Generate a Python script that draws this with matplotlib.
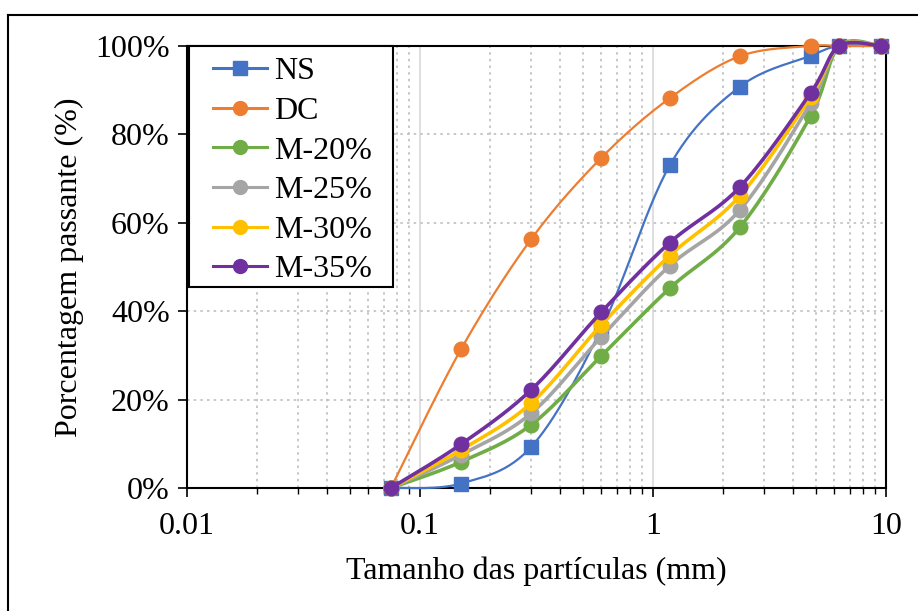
import numpy as np
import matplotlib
matplotlib.use('Agg')
from matplotlib import pyplot as plt
from matplotlib.ticker import LogLocator, FixedLocator, FuncFormatter, NullFormatter

plt.rcParams['font.family'] = ['Liberation Serif', 'DejaVu Serif']

# sieve openings (mm)
sizes = [0.075, 0.15, 0.3, 0.6, 1.18, 2.36, 4.75, 6.3, 9.5]

# percentage passing
ns = [0, 1.0, 9.3, 36, 73, 90.8, 97.8, 100, 100]
dc = [0, 31.4, 56.3, 74.7, 88.2, 97.7, 100, 100, 100]
m20 = [0, 5.9, 14.3, 29.9, 45.2, 59.0, 84.2, 100, 100]
m25 = [0, 7.5, 16.9, 34.2, 50.3, 62.9, 87.1, 100, 100]
m30 = [0, 8.6, 19.2, 36.9, 52.6, 66.1, 88.5, 100, 100]
m35 = [0, 9.9, 22.2, 39.8, 55.5, 68.1, 89.4, 100, 100]

labels = ['NS', 'DC', 'M-20%', 'M-25%', 'M-30%', 'M-35%']
colors = ['#4472C4', '#ED7D31', '#70AD47', '#A5A5A5', '#FFC000', '#7030A0']


def smooth(xs, ys, n=30):
    # Excel-like smoothed line: cubic Bezier with Catmull-Rom control points in (log x, y)
    px = np.log10(xs) * 233.0
    py = np.asarray(ys, float) * 4.42
    P = np.column_stack([px, py])
    out = [P[0]]
    for i in range(len(P) - 1):
        p0 = P[i - 1] if i > 0 else P[i]
        p1, p2 = P[i], P[i + 1]
        p3 = P[i + 2] if i + 2 < len(P) else P[i + 1]
        c1 = p1 + (p2 - p0) / 6.0
        c2 = p2 - (p3 - p1) / 6.0
        t = np.linspace(0, 1, n)[1:, None]
        seg = ((1 - t) ** 3) * p1 + 3 * ((1 - t) ** 2) * t * c1 + 3 * (1 - t) * t ** 2 * c2 + t ** 3 * p2
        out.extend(seg)
    out = np.array(out)
    return 10 ** (out[:, 0] / 233.0), out[:, 1] / 4.42


W, H = 918, 611
fig = plt.figure(figsize=(W / 100, H / 100), dpi=100)
ax = fig.add_axes([187 / W, 1 - 488 / H, (886 - 187) / W, (488 - 46) / H])

series = [ns, dc, m20, m25, m30, m35]
for i, (vals, lab, col) in enumerate(zip(series, labels, colors)):
    lw = 1.6 if i < 2 else 2.6
    mk = 's' if i == 0 else 'o'
    sx, sy = smooth(sizes, vals)
    ax.plot(sx, sy, color=col, lw=lw, zorder=3 + i, clip_on=False)
    ax.plot(sizes, vals, linestyle='none', marker=mk, ms=10.5, color=col, zorder=3 + i, clip_on=False)
    ax.plot([], [], color=col, lw=2.2, marker=mk, ms=10, label=lab)

ax.set_xscale('log')
ax.set_xlim(0.01, 10)
ax.set_ylim(0, 100)

ax.xaxis.set_major_locator(FixedLocator([0.01, 0.1, 1, 10]))
ax.xaxis.set_major_formatter(FuncFormatter(lambda v, p: f'{v:g}'))
ax.xaxis.set_minor_locator(LogLocator(base=10, subs=np.arange(2, 10)))
ax.xaxis.set_minor_formatter(NullFormatter())
ax.set_yticks([0, 20, 40, 60, 80, 100])
ax.yaxis.set_major_formatter(FuncFormatter(lambda v, p: f'{v:.0f}%'))

ax.grid(which='major', axis='x', color='#D9D9D9', lw=1.2, ls='-')
ax.grid(which='minor', axis='x', color='#BFBFBF', lw=1.2, ls=(0, (1.5, 2.5)))
ax.grid(which='major', axis='y', color='#BFBFBF', lw=1.2, ls=(0, (1.5, 2.5)))
ax.set_axisbelow(True)

for s in ax.spines.values():
    s.set_color('black')
    s.set_linewidth(1.5)

ax.tick_params(axis='both', which='major', labelsize=23, direction='out', length=6.5, width=1.2, colors='black')
ax.tick_params(axis='x', which='minor', direction='out', length=4.5, width=1.0)
ax.tick_params(axis='y', which='major', pad=6)
ax.tick_params(axis='x', which='major', pad=11)

ax.set_xlabel('Tamanho das partículas (mm)', fontsize=23, labelpad=11)
ax.set_ylabel('Porcentagem passante (%)', fontsize=23, labelpad=8)

# legend entries without frame; frame drawn as a separate box
leg = ax.legend(loc='upper left', bbox_to_anchor=(213 / W, 1 - 57 / H), bbox_transform=fig.transFigure,
                fontsize=23, frameon=False, borderaxespad=0, borderpad=0,
                handlelength=1.7, labelspacing=0.32, handletextpad=0.2)
leg.set_zorder(21)
ax.add_patch(plt.Rectangle((189 / W, 1 - 287 / H), (393 - 189) / W, (287 - 46) / H,
                           transform=fig.transFigure, facecolor='white', edgecolor='black',
                           lw=1.5, zorder=20, clip_on=False))

# chart area border (top and left edges visible)
fig.add_artist(plt.Line2D([8 / W, 1.0], [1 - 15 / H, 1 - 15 / H], transform=fig.transFigure,
                          color='black', lw=1.5))
fig.add_artist(plt.Line2D([8 / W, 8 / W], [0.0, 1 - 15 / H], transform=fig.transFigure,
                          color='black', lw=1.5))

fig.savefig('out.png', dpi=100)
plt.close(fig)
